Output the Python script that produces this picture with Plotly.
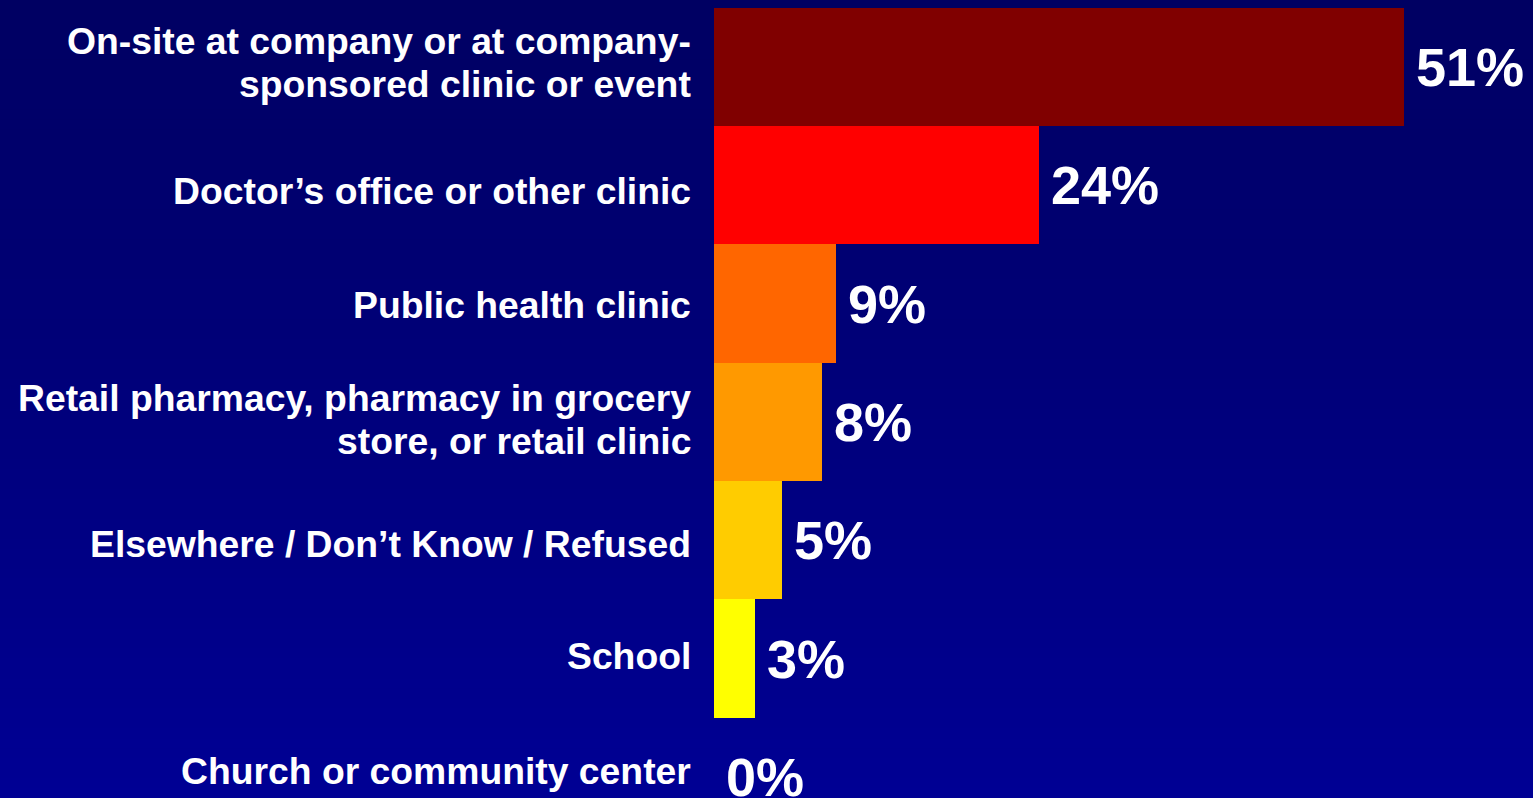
import plotly.graph_objects as go

categories = [
    "On-site at company or at company-<br>sponsored clinic or event",
    "Doctor\u2019s office or other clinic",
    "Public health clinic",
    "Retail pharmacy, pharmacy in grocery<br>store, or retail clinic",
    "Elsewhere / Don\u2019t Know / Refused",
    "School",
    "Church or community center",
]
values = [51, 24, 9, 8, 5, 3, 0]
value_labels = ["51%", "24%", "9%", "8%", "5%", "3%", "0%"]
bar_colors = ["#800000", "#FF0000", "#FF6600", "#FF9900", "#FFCC00", "#FFFF00", "#FFFF00"]

# layout tweaks (pixel nudges of the category labels, as in the original slide)
label_nudge = [4.5, -5.5, -1.5, 2.5, -3.5, 2.5, 5.5]

W, H = 1533, 798
left = 714
px_per_pct = 13.53
row_px = 118.3
first_center = 67
line_gap = 43

ypos = list(range(len(categories)))

fig = go.Figure()
fig.add_trace(go.Bar(
    x=values, y=ypos, orientation="h",
    marker=dict(color=bar_colors, line=dict(width=0)),
    width=1.0, hoverinfo="skip", showlegend=False,
))

label_font = dict(family="Liberation Sans, Arial, sans-serif", size=37.3, color="white", weight="bold")
value_font = dict(family="Liberation Sans, Arial, sans-serif", size=54, color="white", weight="bold")

annotations = []
for i, (cat, v, lab) in enumerate(zip(categories, values, value_labels)):
    lines = cat.split("<br>")
    nl = len(lines)
    for j, line in enumerate(lines):
        offset = ((nl - 1) / 2 - j) * line_gap
        annotations.append(dict(
            x=0, xref="paper", y=i, yref="y", text=line, showarrow=False,
            xanchor="right", yanchor="middle", align="right", xshift=-21,
            yshift=offset + label_nudge[i],
            font=label_font,
        ))
    annotations.append(dict(
        x=v, xref="x", y=i, yref="y", text=lab, showarrow=False,
        xanchor="left", yanchor="middle", xshift=10,
        font=value_font,
    ))

# vertical gradient background
shapes = []
n = 80
top_c = (0, 0, 98)
bot_c = (0, 0, 148)
for k in range(n):
    t = (k + 0.5) / n
    c = tuple(int(round(top_c[j] + (bot_c[j] - top_c[j]) * t)) for j in range(3))
    shapes.append(dict(
        type="rect", xref="paper", yref="paper",
        x0=-1, x1=1.01, y0=1 - (k + 1) / n - 0.002, y1=1 - k / n,
        fillcolor=f"rgb{c}", line=dict(width=0), layer="below",
    ))

y0 = -first_center / row_px
y1 = y0 + H / row_px
plot_w = W - left
fig.update_layout(
    width=W, height=H,
    margin=dict(l=left, r=0, t=0, b=0, pad=0),
    paper_bgcolor="rgb(0,0,120)", plot_bgcolor="rgba(0,0,0,0)",
    xaxis=dict(range=[0, plot_w / px_per_pct], visible=False, fixedrange=True),
    yaxis=dict(range=[y1, y0], visible=False, fixedrange=True),
    bargap=0,
    shapes=shapes,
    annotations=annotations,
)

fig.write_html(
    "out.html",
    config={"displayModeBar": False},
    post_script="document.body.style.margin='0';document.body.style.overflow='hidden';",
)
